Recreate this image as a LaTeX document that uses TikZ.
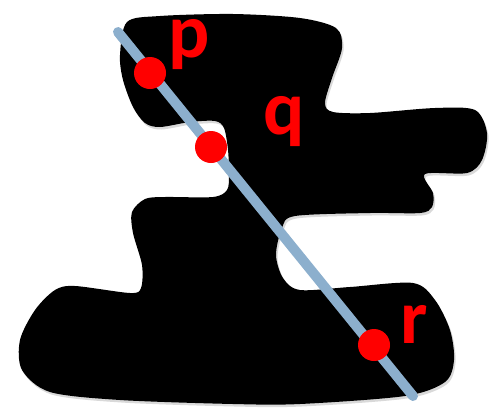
\documentclass[tikz,border=0pt]{standalone}
\usepackage{fontspec}
\setmainfont{Carlito}
\definecolor{linecol}{RGB}{140,175,205}
\definecolor{dotred}{RGB}{255,0,0}
\tikzset{
  dotnode/.style={circle, fill=dotred, inner sep=0pt, minimum size=32pt},
  lbl/.style={anchor=base, text=dotred, inner sep=0pt, font=\fontsize{77}{77}\selectfont\bfseries},
  axisline/.style={line width=10pt, draw=linecol, line cap=round}
}
\begin{document}
\begin{tikzpicture}[x=1pt,y=-1pt]
\useasboundingbox (0,0) rectangle (495,410);
\def\blobpath{plot[smooth cycle, tension=0.5] coordinates {
(127,22) (160,16) (233,14) (300,18) (336,28) (342,48) (332,78) (325,103) (333,112) (370,113) (435,108) (475,110) (487,133) (482,160) (467,173) (425,174) (433,193) (432,207) (420,213) (370,213) (295,216) (282,228) (276,255) (283,278) (300,290) (350,287) (413,283) (435,300) (450,330) (454,360) (445,382) (405,396) (300,404) (233,404) (120,400) (50,392) (22,370) (20,340) (35,310) (55,290) (75,286) (130,293) (141,288) (142,265) (133,233) (132,212) (145,199) (165,197) (213,197) (227,190) (229,175) (228,150) (224,128) (215,121) (190,122) (160,127) (145,123) (133,107) (123,80) (120,55)}}
\fill[black!25, opacity=0.6, shift={(1.5,2.5)}] \blobpath;
\fill[black] \blobpath;
\coordinate (a) at (118,32);
\coordinate (b) at (413,396);
\draw[axisline] (a) -- (b);
\node[dotnode] (dp) at (150,73) {};
\node[dotnode] (dq) at (211,147) {};
\node[dotnode] (dr) at (374,345) {};
\node[lbl] (lp) at (189,57) {p};
\node[lbl] (lq) at (284,134) {q};
\node[lbl] (lr) at (414,343) {r};
\end{tikzpicture}
\end{document}
